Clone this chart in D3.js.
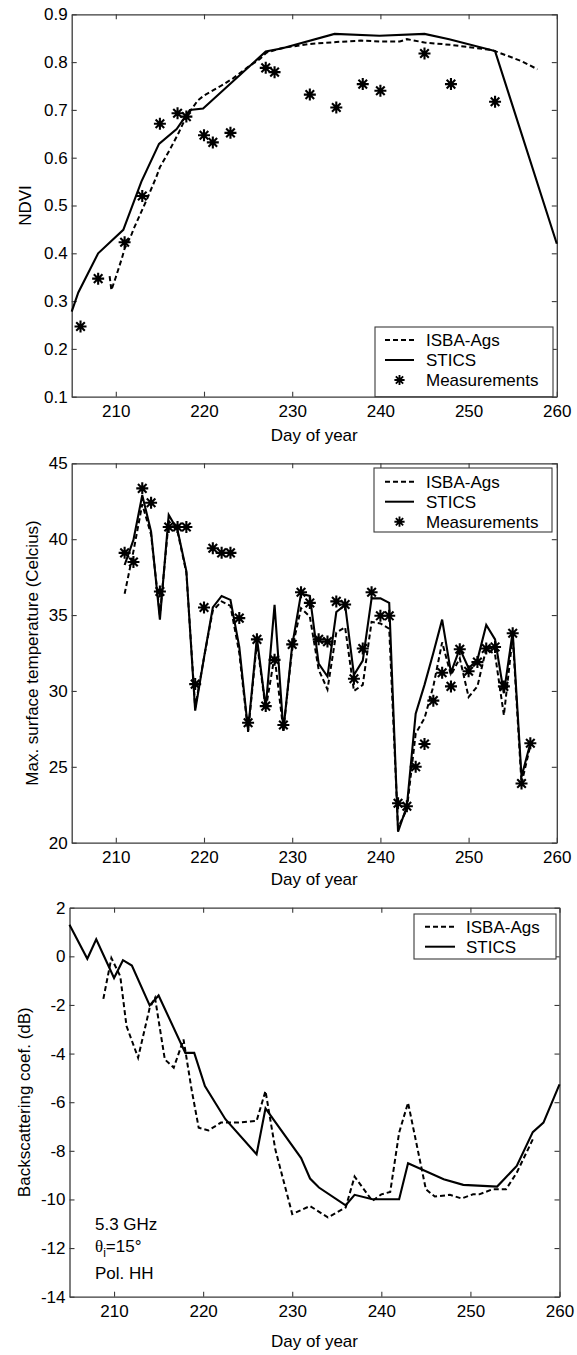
<!DOCTYPE html>
<html><head><meta charset="utf-8">
<script src="https://cdn.jsdelivr.net/npm/d3@7"></script>
<style>
body{margin:0;background:#fff}
svg text{font-family:"Liberation Sans",Arial,Helvetica,sans-serif;fill:#000}
</style>
</head><body>
<svg id="c" width="577" height="1355"></svg>
<script>
// ---------- DATA ----------
const xTickValues = [210, 220, 230, 240, 250, 260];

// Panel 1: NDVI
const ndviIsbaDays = [209.3,209.5,210,210.7,211,211.8,212,213.5,214.6,215,216.1,217.1,218,219.3,220,221.8,223.3,225,226.3,227.1,229,232,235,237.8,240,242.2,243,245,248,252.7,256,257.8];
const ndviIsbaVals = [0.352,0.323,0.35,0.39,0.41,0.44,0.45,0.512,0.56,0.58,0.616,0.651,0.686,0.72,0.73,0.749,0.766,0.79,0.806,0.82,0.83,0.838,0.842,0.845,0.843,0.843,0.848,0.841,0.836,0.825,0.802,0.785];
const ndviSticsDays = [205,205.75,208,210.85,212.9,214.9,216.9,218.4,219.9,227,228.9,234.8,239.9,245,247.8,253,260];
const ndviSticsVals = [0.278,0.318,0.40,0.449,0.55,0.629,0.66,0.70,0.703,0.822,0.829,0.859,0.855,0.859,0.848,0.823,0.42];
const ndviMeasDays = [206,208,211,213,215,217,218,220,221,223,227,228,232,235,238,240,245,248,253];
const ndviMeasVals = [0.247,0.347,0.423,0.520,0.671,0.693,0.686,0.647,0.632,0.652,0.788,0.779,0.732,0.705,0.754,0.740,0.818,0.754,0.717];
const ndviTicks = [0.1,0.2,0.3,0.4,0.5,0.6,0.7,0.8,0.9];

// Panel 2: max. surface temperature
const tempDays = [211,212,213,214,215,216,217,218,219,220,221,222,223,224,225,226,227,228,229,230,231,232,233,234,235,236,237,238,239,240,241,242,243,244,245,246,247,248,249,250,251,252,253,254,255,256,257];
const tempIsba = [36.4,39.2,42.3,40.3,35.0,41.2,40.5,37.8,28.9,32.2,35.3,35.9,35.6,32.5,27.3,33.2,28.8,32.3,27.4,32.8,35.45,34.9,31.4,30.1,33.85,34.2,30.0,30.4,34.55,34.45,34.1,21.0,22.2,27.2,28.2,30.3,33.2,31.05,32.15,29.6,30.3,32.8,32.4,28.4,33.6,23.9,26.4];
const tempStics = [38.3,39.95,42.9,40.5,34.7,41.6,40.6,37.9,28.7,32.2,35.5,36.26,36.0,32.9,27.4,33.5,28.9,35.67,27.4,33.0,36.4,36.26,31.8,30.95,35.2,35.67,31.05,32.0,36.1,36.1,35.8,20.73,22.4,28.5,30.4,32.5,34.7,31.2,32.8,31.5,32.05,34.35,33.4,29.85,33.9,24.35,26.55];
const tempMeas = [39.1,38.5,43.35,42.4,36.55,40.8,40.8,40.8,30.45,35.5,39.4,39.1,39.1,34.8,27.9,33.4,29.0,32.05,27.76,33.07,36.5,35.8,33.4,33.25,35.9,35.7,30.8,32.8,36.5,34.95,34.95,22.6,22.4,25.0,26.5,29.36,31.2,30.3,32.75,31.3,31.9,32.8,32.9,30.3,33.8,23.9,26.55];
const tempTicks = [20,25,30,35,40,45];

// Panel 3: backscattering coefficient
const bsIsbaDays = [208.8,209.7,210.7,211.4,212.7,214,214.6,215.7,216.7,217.8,218.7,219.5,220.6,222,224,226,227,228.1,230,232,234,236,237,239,240,241,242,243,245,246,247.7,249,250.3,251,252.5,254,255.2,257];
const bsIsbaVals = [-1.75,-0.07,-0.82,-2.87,-4.17,-2.12,-1.71,-4.24,-4.58,-3.42,-5.47,-7.05,-7.16,-6.84,-6.84,-6.77,-5.54,-7.94,-10.6,-10.27,-10.74,-10.33,-9.06,-10.06,-9.79,-9.69,-7.25,-6.02,-9.58,-9.88,-9.81,-9.96,-9.79,-9.79,-9.58,-9.58,-8.9,-7.53];
const bsSticsDays = [205,207,208,210,211,212,214,215,218,219,220.2,222.5,226,227,231,232,233,236,237,239,242,243,247,249.2,253,255.2,257,258.2,260];
const bsSticsVals = [1.3,-0.1,0.7,-0.89,-0.16,-0.38,-2.02,-1.61,-3.97,-3.97,-5.34,-6.7,-8.14,-6.25,-8.3,-9.14,-9.51,-10.24,-9.81,-9.99,-9.99,-8.51,-9.17,-9.4,-9.47,-8.62,-7.23,-6.84,-5.27];
const bsTicks = [-14,-12,-10,-8,-6,-4,-2,0,2];

// ---------- DRAW ----------
const svg = d3.select('#c');
const AX = '#3a3a3a';
const starPath = 'M-6,0H6M0,-6V6M-4.3,-4.3L4.3,4.3M-4.3,4.3L4.3,-4.3';

function zip(a, b) { return a.map((d, i) => [d, b[i]]); }

function panel(o) {
  const x = d3.scaleLinear().domain([205, 260]).range([o.left, o.right]);
  const y = d3.scaleLinear().domain(o.ydom).range([o.bottom, o.top]);
  const g = svg.append('g');

  const styleAxis = sel => {
    sel.selectAll('path.domain').attr('stroke', AX).attr('stroke-width', 1.3);
    sel.selectAll('.tick line').attr('stroke', AX).attr('stroke-width', 1.1);
    sel.selectAll('text').attr('font-size', 17).attr('fill', '#000')
      .attr('font-family', '"Liberation Sans",Arial,sans-serif');
  };

  g.append('g').attr('transform', `translate(0,${o.bottom})`)
    .call(d3.axisBottom(x).tickValues(xTickValues).tickSizeInner(-5).tickSizeOuter(0).tickPadding(8).tickFormat(d3.format('d')))
    .call(styleAxis);
  g.append('g').attr('transform', `translate(0,${o.top})`)
    .call(d3.axisTop(x).tickValues(xTickValues).tickSizeInner(-5).tickSizeOuter(0).tickFormat(''))
    .call(styleAxis);
  g.append('g').attr('transform', `translate(${o.left},0)`)
    .call(d3.axisLeft(y).tickValues(o.yticks).tickSizeInner(-5).tickSizeOuter(0).tickPadding(4).tickFormat(o.yfmt))
    .call(styleAxis);
  g.append('g').attr('transform', `translate(${o.right},0)`)
    .call(d3.axisRight(y).tickValues(o.yticks).tickSizeInner(-5).tickSizeOuter(0).tickFormat(''))
    .call(styleAxis);

  // axis titles
  g.append('text').attr('x', (o.left + o.right) / 2).attr('y', o.xTitleY)
    .attr('text-anchor', 'middle').attr('font-size', 17).text('Day of year');
  g.append('text').attr('transform', `translate(${o.yTitleX},${(o.top + o.bottom) / 2}) rotate(-90)`)
    .attr('text-anchor', 'middle').attr('font-size', 17).text(o.yTitle);

  const line = d3.line().x(d => x(d[0])).y(d => y(d[1]));
  const plot = g.append('g');
  plot.append('path').datum(o.isba).attr('d', line).attr('fill', 'none')
    .attr('stroke', '#000').attr('stroke-width', 2).attr('stroke-dasharray', '5,3');
  plot.append('path').datum(o.stics).attr('d', line).attr('fill', 'none')
    .attr('stroke', '#000').attr('stroke-width', 2.1);
  if (o.meas) {
    plot.selectAll('path.star').data(o.meas).join('path').attr('class', 'star')
      .attr('d', starPath).attr('transform', d => `translate(${x(d[0])},${y(d[1])})`)
      .attr('stroke', '#000').attr('stroke-width', 2.1).attr('fill', 'none');
  }

  // legend
  const L = o.legend;
  const lg = g.append('g');
  lg.append('rect').attr('x', L.x0).attr('y', L.y0).attr('width', L.x1 - L.x0).attr('height', L.y1 - L.y0)
    .attr('fill', '#fff').attr('stroke', AX).attr('stroke-width', 1.1);
  const items = [['ISBA-Ags', 'dash'], ['STICS', 'solid']];
  if (o.meas) items.push(['Measurements', 'star']);
  items.forEach((it, i) => {
    const cy = L.rowY + i * 20;
    if (it[1] === 'star') {
      lg.append('path').attr('d', starPath).attr('transform', `translate(${(L.s0 + L.s1) / 2},${cy}) scale(0.85)`)
        .attr('stroke', '#000').attr('stroke-width', 2.2).attr('fill', 'none');
    } else {
      lg.append('line').attr('x1', L.s0).attr('x2', L.s1).attr('y1', cy).attr('y2', cy)
        .attr('stroke', '#000').attr('stroke-width', 2)
        .attr('stroke-dasharray', it[1] === 'dash' ? '5,3' : null);
    }
    lg.append('text').attr('x', L.tx).attr('y', cy).attr('dy', '0.35em').attr('font-size', 17).text(it[0]);
  });
  return { x, y, g };
}

panel({
  left: 71.7, right: 556.8, top: 14.3, bottom: 396.7,
  ydom: [0.1, 0.9], yticks: ndviTicks, yfmt: d3.format('.1f'),
  yTitle: 'NDVI', yTitleX: 31, xTitleY: 441,
  isba: zip(ndviIsbaDays, ndviIsbaVals), stics: zip(ndviSticsDays, ndviSticsVals),
  meas: zip(ndviMeasDays, ndviMeasVals),
  legend: { x0: 375, x1: 553, y0: 327, y1: 396.7, rowY: 340, s0: 385, s1: 414, tx: 426 }
});

panel({
  left: 71.7, right: 556.8, top: 463.3, bottom: 842.7,
  ydom: [20, 45], yticks: tempTicks, yfmt: d => String(d),
  yTitle: 'Max. surface temperature (Celcius)', yTitleX: 38, xTitleY: 885,
  isba: zip(tempDays, tempIsba), stics: zip(tempDays, tempStics),
  meas: zip(tempDays, tempMeas),
  legend: { x0: 374, x1: 552, y0: 468, y1: 532, rowY: 481.7, s0: 385, s1: 414, tx: 426 }
});

const p3 = panel({
  left: 69.5, right: 559.5, top: 907.7, bottom: 1296.7,
  ydom: [-14, 2], yticks: bsTicks, yfmt: d => String(d),
  yTitle: 'Backscattering coef. (dB)', yTitleX: 30, xTitleY: 1347,
  isba: zip(bsIsbaDays, bsIsbaVals), stics: zip(bsSticsDays, bsSticsVals),
  meas: null,
  legend: { x0: 414, x1: 556, y0: 914, y1: 959, rowY: 926.7, s0: 425, s1: 455, tx: 466 }
});

// annotation panel 3
const ann = p3.g.append('g').attr('font-size', 17);
ann.append('text').attr('x', 95).attr('y', 1230).attr('font-size', 17).text('5.3 GHz');
const t2 = ann.append('text').attr('x', 95).attr('y', 1251.5).attr('font-size', 17);
t2.append('tspan').attr('font-family', '"Liberation Serif","DejaVu Serif",serif').text('θ');
t2.append('tspan').attr('dy', 5).attr('font-size', 12).text('i');
t2.append('tspan').attr('dy', -5).text('=15°');
ann.append('text').attr('x', 95).attr('y', 1279).attr('font-size', 17).text('Pol. HH');
</script>
</body></html>
